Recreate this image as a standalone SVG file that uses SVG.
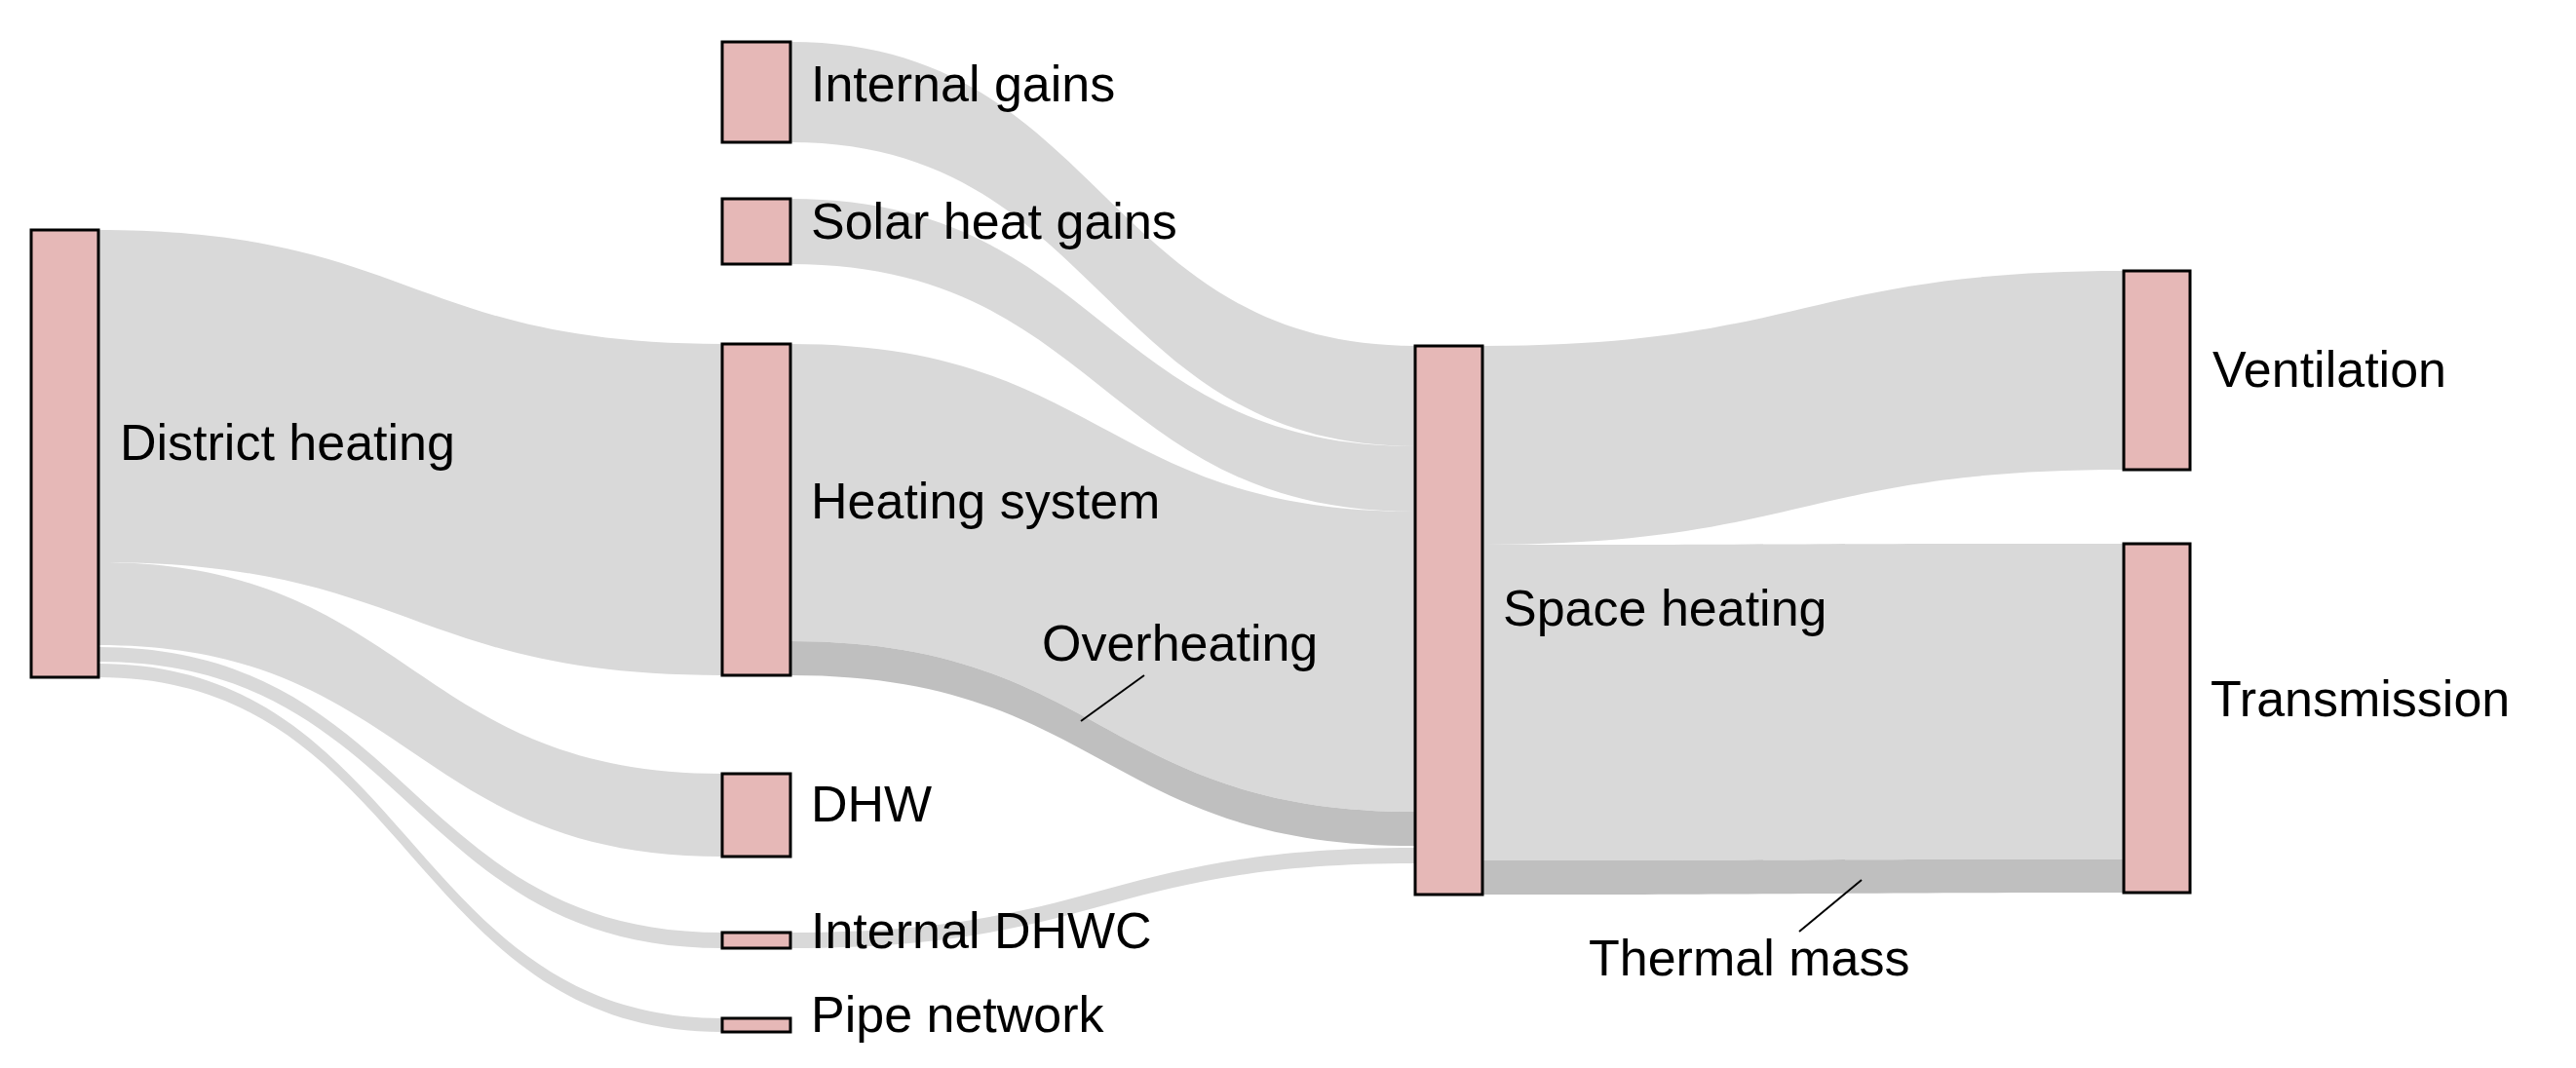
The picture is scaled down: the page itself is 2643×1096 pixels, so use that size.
<svg xmlns="http://www.w3.org/2000/svg" width="2643" height="1096" viewBox="0 0 2643 1096">
<style>
.f{fill:#d9d9d9}
.d{fill:#bfbfbf}
.n{fill:#e6b8b7;stroke:#000;stroke-width:3}
text{font-family:"Liberation Sans",Arial,sans-serif;font-size:52px;fill:#000}
.l{stroke:#000;stroke-width:2;fill:none}
</style>
<rect width="2643" height="1096" fill="#fff"/>
<g id="connectors">
<path class="f" d="M101 236C421 236 421 353 741 353L741 693C421 693 421 577 101 577Z"/>
<path class="f" d="M101 577C421 577 421 794 741 794L741 879C421 879 421 662 101 662Z"/>
<path class="f" d="M101 664C421 664 421 957 741 957L741 973C421 973 421 679 101 679Z"/>
<path class="f" d="M101 681C421 681 421 1045 741 1045L741 1059C421 1059 421 695 101 695Z"/>
<path class="f" d="M811 43C1131 43 1131 355 1452 355L1452 458C1131 458 1131 146 811 146Z"/>
<path class="f" d="M811 204C1131 204 1131 458 1452 458L1452 525C1131 525 1131 271 811 271Z"/>
<path class="f" d="M811 353C1131 353 1131 525 1452 525L1452 833C1131 833 1131 658 811 658Z"/>
<path class="d" d="M811 658C1131 658 1131 833 1452 833L1452 868C1131 868 1131 693 811 693Z"/>
<path class="f" d="M811 957C1131 957 1131 870 1452 870L1452 886C1131 886 1131 973 811 973Z"/>
<path class="f" d="M1521 355C1850 355 1850 278 2179 278L2179 482C1850 482 1850 559 1521 559Z"/>
<path class="f" d="M1521 559C1850 559 1850 558 2179 558L2179 882C1850 882 1850 883 1521 883Z"/>
<path class="d" d="M1521 883C1850 883 1850 882 2179 882L2179 916C1850 916 1850 918 1521 918Z"/>
<line class="l" x1="1174" y1="693" x2="1109" y2="740"/>
<line class="l" x1="1910" y1="903" x2="1846" y2="956"/>
</g>
<g id="district-heating"><rect class="n" x="32" y="236" width="69" height="459"/><text x="123" y="472">District heating</text></g>
<g id="internal-gains"><rect class="n" x="741" y="43" width="70" height="103"/><text x="832" y="104">Internal gains</text></g>
<g id="solar-heat-gains"><rect class="n" x="741" y="204" width="70" height="67"/><text x="832" y="245">Solar heat gains</text></g>
<g id="heating-system"><rect class="n" x="741" y="353" width="70" height="340"/><text x="832" y="532">Heating system</text></g>
<g id="dhw"><rect class="n" x="741" y="794" width="70" height="85"/><text x="832" y="843">DHW</text></g>
<g id="internal-dhwc"><rect class="n" x="741" y="957" width="70" height="16"/><text x="832" y="973">Internal DHWC</text></g>
<g id="pipe-network"><rect class="n" x="741" y="1045" width="70" height="14"/><text x="832" y="1059">Pipe network</text></g>
<g id="overheating"><text x="1069" y="678">Overheating</text></g>
<g id="space-heating"><rect class="n" x="1452" y="355" width="69" height="563"/><text x="1542" y="642">Space heating</text></g>
<g id="ventilation"><rect class="n" x="2179" y="278" width="68" height="204"/><text x="2270" y="397">Ventilation</text></g>
<g id="transmission"><rect class="n" x="2179" y="558" width="68" height="358"/><text x="2268" y="735">Transmission</text></g>
<g id="thermal-mass"><text x="1630" y="1001">Thermal mass</text></g>
</svg>
